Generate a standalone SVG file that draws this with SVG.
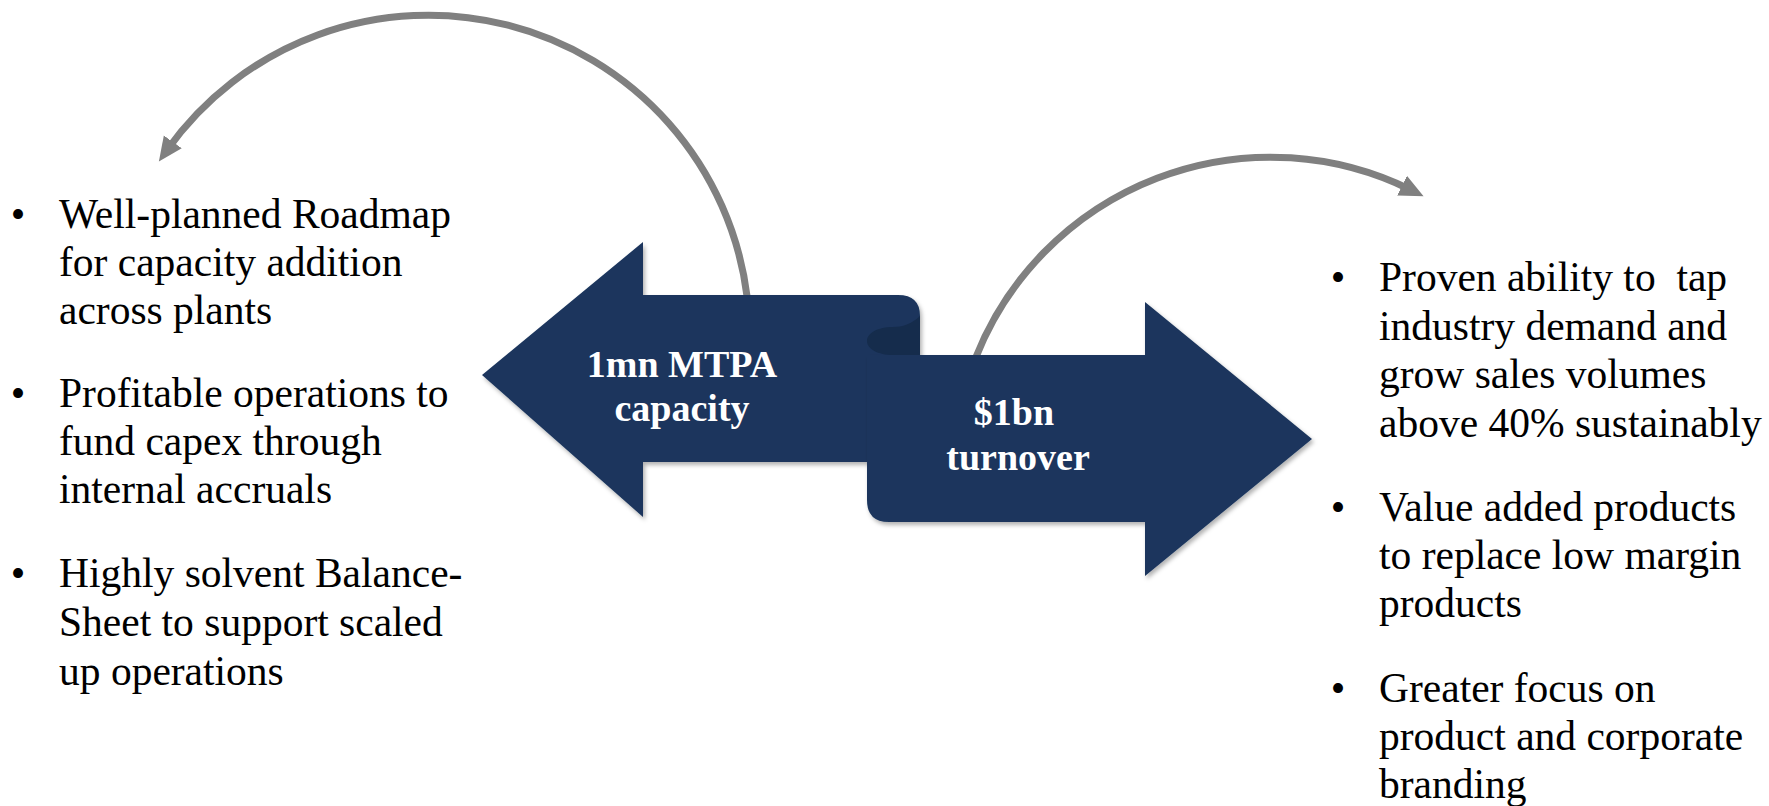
<svg xmlns="http://www.w3.org/2000/svg" width="1769" height="806" viewBox="0 0 1769 806">
<style>
.body{font-family:"Liberation Serif","Times New Roman",serif;font-size:41.5px;fill:#000}
.lbl{font-family:"Liberation Serif","Times New Roman",serif;font-size:38px;font-weight:bold;fill:#fff;text-anchor:middle}
.bul{font-family:"Liberation Serif","Times New Roman",serif;font-size:41.5px;fill:#000;text-anchor:middle}
.conn{fill:none;stroke:#808080;stroke-width:7}
.shape{fill:#1b365d}
.curl{fill:#152c4c}
</style>
<defs>
<marker id="ah" markerUnits="userSpaceOnUse" markerWidth="30" markerHeight="30" refX="10" refY="11" orient="auto">
<path d="M0,0 L24,11 L0,22 Z" fill="#808080"/>
</marker>
<filter id="sh" x="-10%" y="-10%" width="130%" height="130%">
<feDropShadow dx="2" dy="3" stdDeviation="2" flood-color="#000" flood-opacity="0.3"/>
</filter>
</defs>
<g id="connectors">
<path class="conn" d="M747,296 A321,321 0 0 0 167,150" marker-end="url(#ah)"/>
<path class="conn" d="M976,357 A317,317 0 0 1 1411,190" marker-end="url(#ah)"/>
</g>
<g id="capacity-arrow">
<path class="shape" filter="url(#sh)" d="M482,375 L643,242 L643,295 L898,295 Q920,295 920,316 L920,462 L643,462 L643,517 Z"/>
<text class="lbl" x="682" y="377">1mn MTPA</text>
<text class="lbl" x="682" y="421">capacity</text>
</g>
<g id="turnover-arrow">
<path class="shape" filter="url(#sh)" d="M867,355 L1145,355 L1145,302 L1312,439 L1145,576 L1145,522 L889,522 Q867,522 867,500 Z"/>
<path class="curl" d="M920,316 C912,324 902,327 893,327 C878,327 867,333 867,341 C867,349 878,355 893,355 L920,355 Z"/>
<text class="lbl" x="1014" y="425">$1bn</text>
<text class="lbl" x="1018" y="470">turnover</text>
</g>
<g id="left-list">
<text class="bul" x="18" y="228">•</text>
<text class="body" x="59" y="228">Well-planned Roadmap</text>
<text class="body" x="59" y="276">for capacity addition</text>
<text class="body" x="59" y="324">across plants</text>
<text class="bul" x="18" y="407">•</text>
<text class="body" x="59" y="407">Profitable operations to</text>
<text class="body" x="59" y="455">fund capex through</text>
<text class="body" x="59" y="503">internal accruals</text>
<text class="bul" x="18" y="587">•</text>
<text class="body" x="59" y="587">Highly solvent Balance-</text>
<text class="body" x="59" y="636">Sheet to support scaled</text>
<text class="body" x="59" y="685">up operations</text>
</g>
<g id="right-list">
<text class="bul" x="1338" y="291">•</text>
<text class="body" x="1379" y="291">Proven ability to&#160; tap</text>
<text class="body" x="1379" y="340">industry demand and</text>
<text class="body" x="1379" y="388">grow sales volumes</text>
<text class="body" x="1379" y="437">above 40% sustainably</text>
<text class="bul" x="1338" y="521">•</text>
<text class="body" x="1379" y="521">Value added products</text>
<text class="body" x="1379" y="569">to replace low margin</text>
<text class="body" x="1379" y="617">products</text>
<text class="bul" x="1338" y="702">•</text>
<text class="body" x="1379" y="702">Greater focus on</text>
<text class="body" x="1379" y="750">product and corporate</text>
<text class="body" x="1379" y="798">branding</text>
</g>
</svg>
